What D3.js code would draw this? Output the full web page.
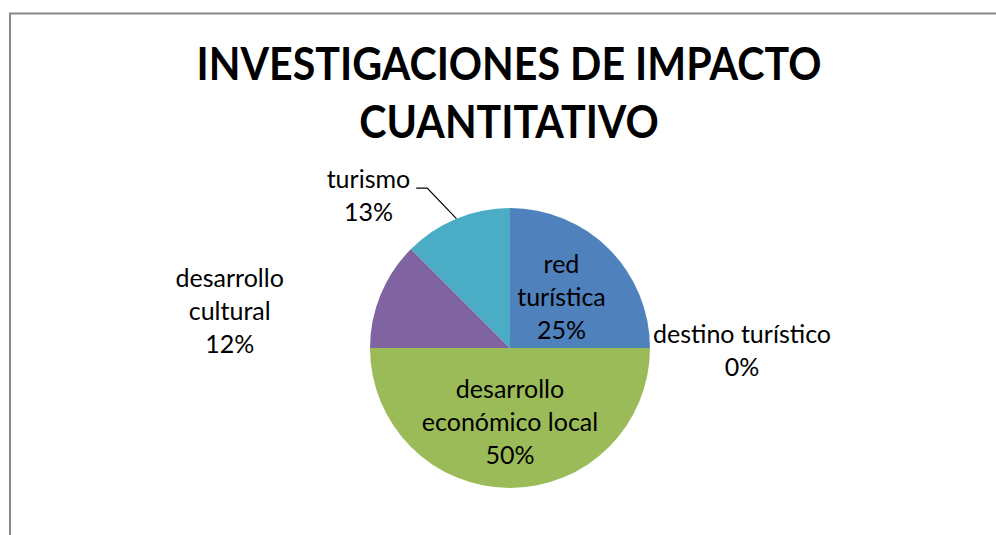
<!DOCTYPE html>
<html>
<head>
<meta charset="utf-8">
<script src="https://cdn.jsdelivr.net/npm/d3@7"></script>
<style>
  body { margin: 0; background: #fff; }
  svg { display: block; }
  .title { font-family: Lato, "Open Sans", sans-serif; font-weight: 700; font-size: 46px; fill: #000; }
  .label { font-family: Lato, "Open Sans", sans-serif; font-size: 25px; fill: #000; }
</style>
</head>
<body>
<svg id="chart"></svg>
<script>
// Data
const categories = ["red turística", "destino turístico", "desarrollo económico local", "desarrollo cultural", "turismo"];
const values = [2, 0, 4, 1, 1];
const percentLabels = ["25%", "0%", "50%", "12%", "13%"];
const labelLines = [["red", "turística"], ["destino turístico"], ["desarrollo", "económico local"], ["desarrollo", "cultural"], ["turismo"]];
const colors = ["#4F81BD", "#C0504D", "#9BBB59", "#8064A2", "#4BACC6"];
const titleLines = ["INVESTIGACIONES DE IMPACTO", "CUANTITATIVO"];

// Dimensions
const width = 996;
const height = 535;
const cx = 510, cy = 348, radius = 140;
const lineH = 33;

// label placement: radius on the slice, extra shift, anchor, leader line
const labelLayout = [
  {r: 0.52, dx: 0, dy: 0, anchor: "middle"},
  {r: 1.0, dx: 92, dy: 2, anchor: "middle"},
  {r: 0.53, dx: 0, dy: 0, anchor: "middle"},
  {r: 1.0, dx: -151, dy: 17, anchor: "middle"},
  {r: 1.0, dx: -88, dy: -23, anchor: "middle", leader: true}
];

const svg = d3.select("#chart")
  .attr("width", width)
  .attr("height", height);

// chart frame (only top and left edges are in view)
svg.append("rect")
  .attr("x", 10)
  .attr("y", 13.5)
  .attr("width", 1000)
  .attr("height", 600)
  .attr("fill", "none")
  .attr("stroke", "#878787")
  .attr("stroke-width", 2);

// Title (slightly condensed to look like the narrow original face)
svg.append("g")
  .attr("transform", "translate(509, 0) scale(0.895, 1)")
  .append("text")
  .attr("class", "title")
  .attr("text-anchor", "middle")
  .selectAll("tspan")
  .data(titleLines)
  .enter().append("tspan")
    .attr("x", 0)
    .attr("y", (d, i) => 80 + i * 58)
    .text((d) => d);

// Pie
const pie = d3.pie().sort(null).value((d) => d);
const arcs = pie(values);
const arc = d3.arc().innerRadius(0).outerRadius(radius);

const g = svg.append("g")
  .attr("transform", `translate(${cx}, ${cy})`);

g.selectAll("path")
  .data(arcs)
  .enter().append("path")
    .attr("d", arc)
    .attr("fill", (d, i) => colors[i]);

// Labels
arcs.forEach((a, i) => {
  const lay = labelLayout[i];
  const r = radius * lay.r;
  const [px, py] = d3.arc().innerRadius(r).outerRadius(r).centroid(a);
  const lines = [...labelLines[i], percentLabels[i]];
  const x = px + lay.dx;
  const yc = py + lay.dy;
  const y0 = yc - (lines.length - 1) * lineH / 2 + 9;

  const t = g.append("text")
    .attr("class", "label")
    .attr("text-anchor", lay.anchor);
  t.selectAll("tspan")
    .data(lines)
    .enter().append("tspan")
      .attr("x", x)
      .attr("y", (d, j) => y0 + j * lineH)
      .text((d) => d);

  if (lay.leader) {
    const bb = t.node().getBBox();
    const [ex, ey] = arc.centroid(a).map((v) => v * 2);
    const sx = bb.x + bb.width + 6;
    g.append("polyline")
      .attr("points", `${sx},${y0} ${sx + 11},${y0} ${ex},${ey}`)
      .attr("fill", "none")
      .attr("stroke", "#000")
      .attr("stroke-width", 1.2);
  }
});
</script>
</body>
</html>
